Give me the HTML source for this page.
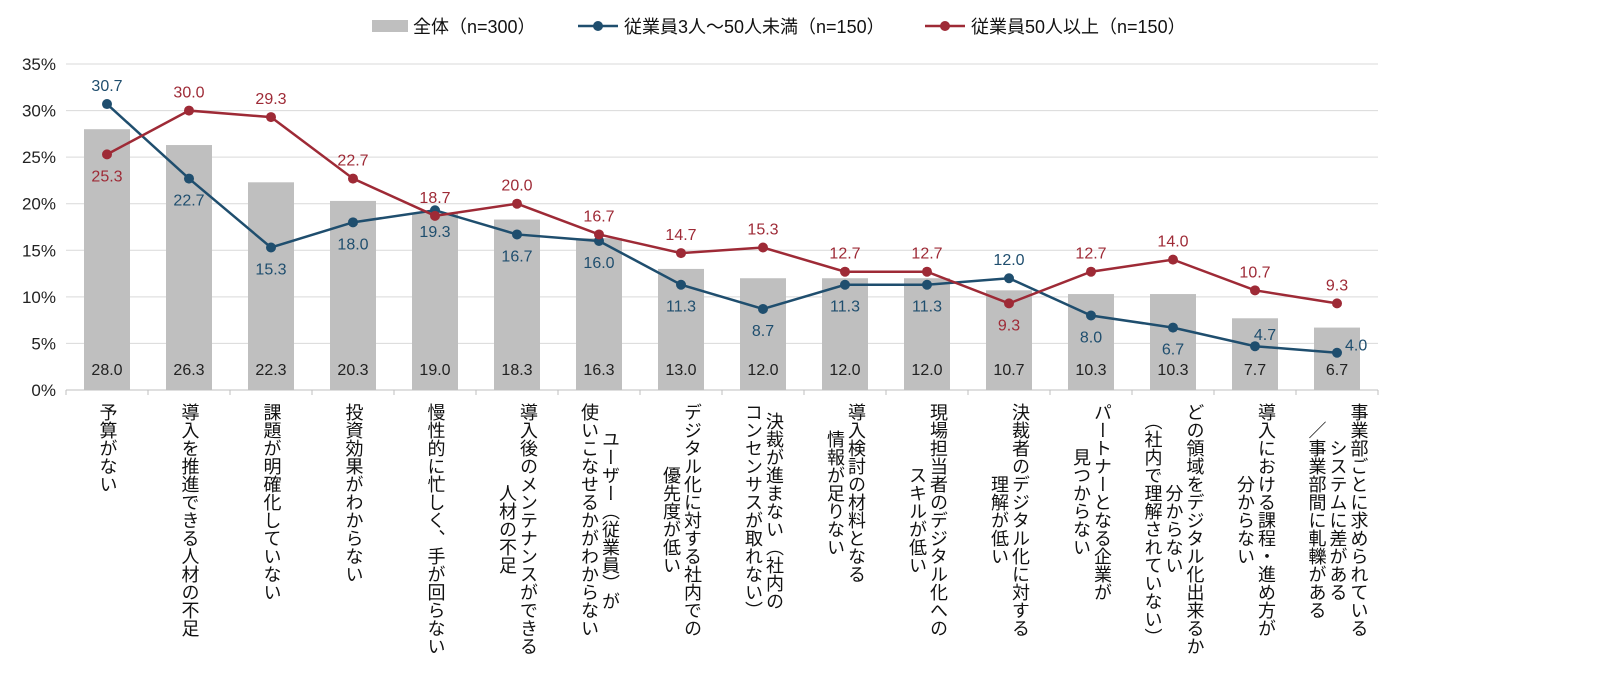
<!DOCTYPE html>
<html><head><meta charset="utf-8">
<style>
body{margin:0;background:#fff;font-family:"Liberation Sans","Noto Sans CJK JP",sans-serif;}
svg text{font-family:"Liberation Sans","Noto Sans CJK JP",sans-serif;}
.xl{position:absolute;top:403px;writing-mode:vertical-rl;text-align:center;font-size:18px;line-height:21px;color:#111;font-family:"Liberation Sans","Noto Sans CJK JP",sans-serif;white-space:nowrap;}
</style></head>
<body>
<div id="wrap" style="position:relative;width:1617px;height:684px;overflow:hidden">
<svg id="svg" width="1617" height="684" style="position:absolute;left:0;top:0"></svg>
</div>
<script>
const categories=["予算がない","導入を推進できる人材の不足","課題が明確化していない","投資効果がわからない","慢性的に忙しく、手が回らない","導入後のメンテナンスができる\n人材の不足","ユーザー（従業員）が\n使いこなせるかがわからない","デジタル化に対する社内での\n優先度が低い","決裁が進まない（社内の\nコンセンサスが取れない）","導入検討の材料となる\n情報が足りない","現場担当者のデジタル化への\nスキルが低い","決裁者のデジタル化に対する\n理解が低い","パートナーとなる企業が\n見つからない","どの領域をデジタル化出来るか\n分からない\n（社内で理解されていない）","導入における課程・進め方が\n分からない","事業部ごとに求められている\nシステムに差がある\n／事業部間に軋轢がある"];
const totalValues=[28.0,26.3,22.3,20.3,19.0,18.3,16.3,13.0,12.0,12.0,12.0,10.7,10.3,10.3,7.7,6.7];
const smallValues=[30.7,22.7,15.3,18.0,19.3,16.7,16.0,11.3,8.7,11.3,11.3,12.0,8.0,6.7,4.7,4.0];
const largeValues=[25.3,30.0,29.3,22.7,18.7,20.0,16.7,14.7,15.3,12.7,12.7,9.3,12.7,14.0,10.7,9.3];
const yTicks=[0,5,10,15,20,25,30,35];
const smallPos=["a","b","b","b","b","b","b","b","b","b","b","a","b","b","ar","r"];
const largePos=["b","a","a","a","a","a","a","a","a","a","a","b","a","a","a","a"];

const NS="http://www.w3.org/2000/svg";
const svg=document.getElementById('svg');
const X0=66,X1=1378,Y0=390,Y35=64;
const band=(X1-X0)/categories.length;
const xC=i=>X0+band*(i+0.5);
const yS=v=>Y0-(v/35)*(Y0-Y35);
function mk(tag,attrs,txt){const e=document.createElementNS(NS,tag);for(const k in attrs)e.setAttribute(k,attrs[k]);if(txt!=null)e.textContent=txt;svg.appendChild(e);return e;}

yTicks.forEach(t=>{
  const g=mk('line',{x1:X0,x2:X1,y1:yS(t),y2:yS(t),stroke:t===0?'#bfbfbf':'#d9d9d9','stroke-width':1});
  
  
  const l=mk('text',{x:56,y:yS(t)+6,'text-anchor':'end','font-size':17,fill:'#222'},t+'%');
  
  
});
for(let i=0;i<=categories.length;i++){
  const tk=mk('line',{x1:X0+band*i,x2:X0+band*i,y1:Y0,y2:Y0+5,stroke:'#bfbfbf'});
  
  
}
totalValues.forEach((v,i)=>{
  const r=mk('rect',{x:xC(i)-23,y:yS(v),width:46,height:Y0-yS(v),fill:'#bfbfbf'});
  
  
  const t=mk('text',{x:xC(i),y:375,'text-anchor':'middle','font-size':16,fill:'#222'},v.toFixed(1));
  
  
});
function series(vals,pos,color,name){
  const d=vals.map((v,i)=>(i?'L':'M')+xC(i)+','+yS(v)).join(' ');
  const p=mk('path',{d:d,fill:'none',stroke:color,'stroke-width':2.5});
  
  
  vals.forEach((v,i)=>{
    const c=mk('circle',{cx:xC(i),cy:yS(v),r:5,fill:color});
    
    
    let x=xC(i),y=yS(v),a='middle';
    if(pos[i]==='a')y-=13;
    else if(pos[i]==='b')y+=27;
    else if(pos[i]==='ar'){y-=6;x+=10;}
    else {x+=8;y+=-2;a='start';}
    const t=mk('text',{x:x,y:y,'text-anchor':a,'font-size':16,fill:color},v.toFixed(1));
    
    
  });
}
series(smallValues,smallPos,'#1f4e6e','small-firms');
series(largeValues,largePos,'#9e2a36','large-firms');

// legend
const lg1=mk('rect',{x:372,y:20,width:36,height:12,fill:'#bfbfbf'});

const lt1=mk('text',{x:413,y:33,'font-size':18,fill:'#111'},'全体（n=300）');

const ll2=mk('line',{x1:578,x2:618,y1:26,y2:26,stroke:'#1f4e6e','stroke-width':2.5});

const lc2=mk('circle',{cx:598,cy:26,r:5,fill:'#1f4e6e'});

const lt2=mk('text',{x:624,y:33,'font-size':18,fill:'#111'},'従業員3人～50人未満（n=150）');

const ll3=mk('line',{x1:925,x2:965,y1:26,y2:26,stroke:'#9e2a36','stroke-width':2.5});

const lc3=mk('circle',{cx:945,cy:26,r:5,fill:'#9e2a36'});

const lt3=mk('text',{x:971,y:33,'font-size':18,fill:'#111'},'従業員50人以上（n=150）');


const wrap=document.getElementById('wrap');
categories.forEach((c,i)=>{
  const d=document.createElement('div');
  d.className='xl';
  
  
  d.innerHTML=c.split('\n').join('<br>');
  wrap.appendChild(d);
  d.style.left=(xC(i)-d.offsetWidth/2)+'px';
});
</script>
</body></html>
